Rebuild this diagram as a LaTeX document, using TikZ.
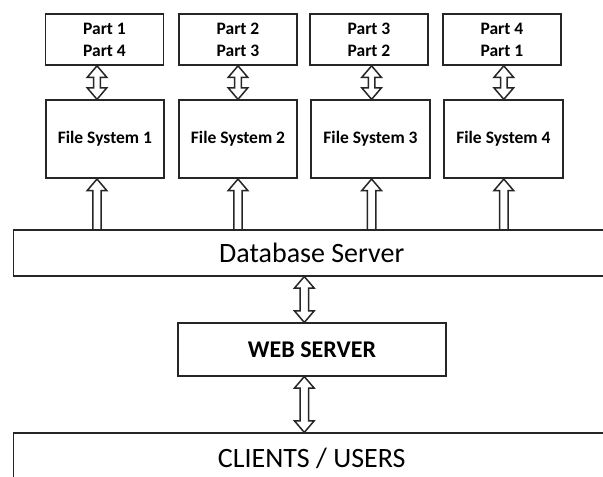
\documentclass[tikz,border=0pt]{standalone}
\usepackage{fontspec}
\setmainfont{Carlito}
\usetikzlibrary{calc}
\newcommand\ahw{9.8bp}
\newcommand\ahl{11.5bp}
% double hollow arrow: #1 x-coordinate, #2 upper anchor, #3 lower anchor, #4 shaft half width
\newcommand\dblarr[4]{%
\draw[arr] let \p1=(#1 |- #2), \p2=(#1 |- #3) in
 (\x1,\y1) -- (\x1+\ahw,\y1-\ahl) -- (\x1+#4,\y1-\ahl) -- (\x1+#4,\y2+\ahl) -- (\x1+\ahw,\y2+\ahl)
 -- (\x1,\y2) -- (\x1-\ahw,\y2+\ahl) -- (\x1-#4,\y2+\ahl) -- (\x1-#4,\y1-\ahl) -- (\x1-\ahw,\y1-\ahl) -- cycle;}
% single hollow arrow pointing up: #1 x-coordinate, #2 upper anchor (tip), #3 lower anchor
\newcommand\uparr[4]{%
\draw[arr] let \p1=(#1 |- #2), \p2=(#1 |- #3) in
 (\x1-#4,\y2) -- (\x1-#4,\y1-\ahl) -- (\x1-\ahw,\y1-\ahl) -- (\x1,\y1) -- (\x1+\ahw,\y1-\ahl)
 -- (\x1+#4,\y1-\ahl) -- (\x1+#4,\y2);}
\begin{document}
\begin{tikzpicture}[x=1bp,y=-1bp,
 box/.style={draw=black!85, line width=1.7bp, inner sep=0pt, anchor=center},
 partbox/.style={box, minimum width=118bp, minimum height=51bp, align=center,
   font=\fontsize{17.5bp}{22bp}\selectfont\bfseries},
 fsbox/.style={box, minimum width=118.5bp, minimum height=78bp,
   font=\fontsize{17.5bp}{22bp}\selectfont\bfseries},
 widebox/.style={box, minimum width=596.5bp, font=\fontsize{28bp}{32bp}\selectfont},
 arr/.style={draw=black!85, line width=1.5bp, line join=miter}]
\clip (0,0) rectangle (603,477);
\fill[white] (0,0) rectangle (603,477);

\node[partbox] (p1) at (104.5,39.5) {Part 1\\Part 4};
\node[partbox] (p2) at (238,39.5) {Part 2\\Part 3};
\node[partbox] (p3) at (369,39.5) {Part 3\\Part 2};
\node[partbox] (p4) at (501.9,39.5) {Part 4\\Part 1};

\node[fsbox] (f1) at (104.9,139.2) {File System 1};
\node[fsbox] (f2) at (238,139.2) {File System 2};
\node[fsbox] (f3) at (370.5,139.2) {File System 3};
\node[fsbox] (f4) at (503.4,139.2) {File System 4};

\node[widebox, minimum height=45.7bp] (db) at (311.75,252.85) {Database Server};
\node[box, minimum width=268bp, minimum height=52.4bp,
  font=\fontsize{24bp}{28bp}\selectfont\bfseries] (web) at (312,349.5) {WEB SERVER};
\node[widebox, minimum height=50.7bp] (cl) at (311.75,458.6) {CLIENTS / USERS};

\coordinate (a1) at (97,0);
\coordinate (a2) at (238,0);
\coordinate (a3) at (371.6,0);
\coordinate (a4) at (503.8,0);
\coordinate (ac) at (304.3,0);

\dblarr{a1}{p1.south}{f1.north}{3.3bp}
\dblarr{a2}{p2.south}{f2.north}{3.3bp}
\dblarr{a3}{p3.south}{f3.north}{3.3bp}
\dblarr{a4}{p4.south}{f4.north}{3.3bp}

\uparr{a1}{f1.south}{db.north}{4.2bp}
\uparr{a2}{f2.south}{db.north}{4.2bp}
\uparr{a3}{f3.south}{db.north}{4.2bp}
\uparr{a4}{f4.south}{db.north}{4.2bp}

\dblarr{ac}{db.south}{web.north}{4.3bp}
\dblarr{ac}{web.south}{cl.north}{4.3bp}
\end{tikzpicture}
\end{document}
